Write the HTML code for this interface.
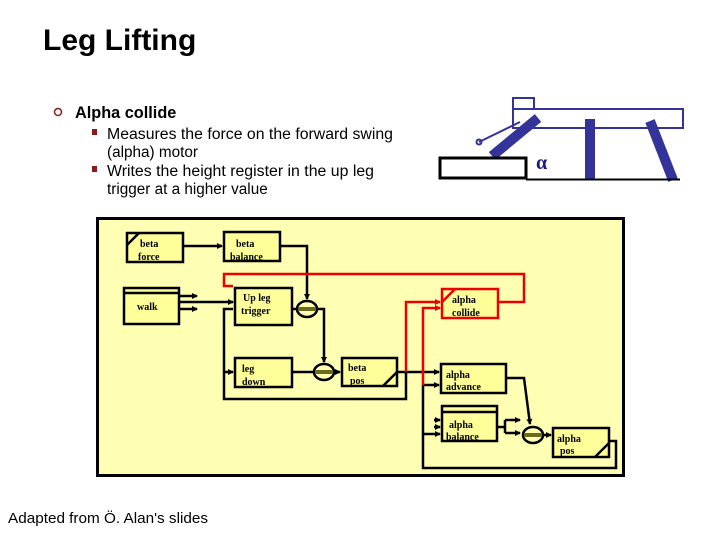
<!DOCTYPE html>
<html><head><meta charset="utf-8"><style>
body{margin:0;width:720px;height:540px;background:#fff;overflow:hidden}
svg{display:block}
.t{font-family:"Liberation Sans",sans-serif}
.b{font-family:"Liberation Serif",serif;font-weight:bold;font-size:10px}
</style></head><body>
<svg width="720" height="540" viewBox="0 0 720 540" xmlns="http://www.w3.org/2000/svg">
<defs>
<marker id="a" markerWidth="6" markerHeight="6" refX="5" refY="3" orient="auto" markerUnits="userSpaceOnUse"><path d="M0,0 L6,3 L0,6z" fill="#000"/></marker>
<marker id="r" markerWidth="6" markerHeight="6" refX="5" refY="3" orient="auto" markerUnits="userSpaceOnUse"><path d="M0,0 L6,3 L0,6z" fill="#e00"/></marker>
</defs>
<text class="t" x="43" y="50" font-size="30" font-weight="bold">Leg Lifting</text>
<circle cx="58" cy="112" r="3.5" fill="none" stroke="#8b1a1a" stroke-width="1.5"/>
<text class="t" x="75" y="118" font-size="16.3" font-weight="bold">Alpha collide</text>
<rect x="92" y="129" width="5" height="6" fill="#8b1a1a"/>
<rect x="92" y="166" width="5" height="6" fill="#8b1a1a"/>
<g class="t" font-size="15.3">
<text x="107" y="139" textLength="286" lengthAdjust="spacingAndGlyphs">Measures the force on the forward swing</text>
<text x="107" y="157">(alpha) motor</text>
<text x="107" y="176" textLength="267" lengthAdjust="spacingAndGlyphs">Writes the height register in the up leg</text>
<text x="107" y="194">trigger at a higher value</text>
</g>
<!-- robot -->
<g fill="none" stroke="#33339a" stroke-width="2">
<rect x="513" y="109" width="170" height="19" fill="#fff"/>
<rect x="513" y="98" width="21" height="11"/>
<line x1="520" y1="122" x2="479" y2="142"/>
<circle cx="479" cy="142" r="2.5"/>
</g>
<line x1="538" y1="118" x2="492" y2="156" stroke="#33339a" stroke-width="10"/>
<rect x="585" y="119" width="10" height="61" fill="#33339a"/>
<line x1="650" y1="121" x2="673" y2="180" stroke="#33339a" stroke-width="10"/>
<rect x="440" y="158" width="86" height="20" fill="#fff" stroke="#000" stroke-width="3"/>
<line x1="526" y1="179.5" x2="680" y2="179.5" stroke="#000" stroke-width="2"/>
<text x="536" y="169" font-family="Liberation Serif,serif" font-size="20" font-weight="bold" fill="#1a1a7a">α</text>
<!-- panel -->
<rect x="97.5" y="218.5" width="526" height="257" fill="#ffffb4" stroke="#000" stroke-width="3"/>
<g stroke="#000" stroke-width="2.5" fill="none">
<line x1="183" y1="246" x2="222" y2="246" marker-end="url(#a)"/>
<polyline points="280,246 307,246 307,299" marker-end="url(#a)"/>
<line x1="179" y1="302" x2="233" y2="302" marker-end="url(#a)"/>
<line x1="179" y1="296" x2="197" y2="296" marker-end="url(#a)"/>
<line x1="179" y1="309" x2="197" y2="309" marker-end="url(#a)"/>
<polyline points="233,309 224,309 224,399 406,399 406,372"/>
<line x1="224" y1="372" x2="233" y2="372" marker-end="url(#a)"/>
<line x1="292" y1="309" x2="297" y2="309"/>
<polyline points="317,309 324,309 324,362" marker-end="url(#a)"/>
<line x1="292" y1="372" x2="314" y2="372"/>
<line x1="334" y1="372" x2="340" y2="372" marker-end="url(#a)"/>
<line x1="397" y1="372" x2="439" y2="372" marker-end="url(#a)"/>
<line x1="423" y1="385" x2="439" y2="385" marker-end="url(#a)"/>
<polyline points="423,385 423,468 616,468 616,441 609,441"/>
<line x1="423" y1="434" x2="440" y2="434" marker-end="url(#a)"/>
<line x1="434" y1="420" x2="440" y2="420" marker-end="url(#a)"/>
<line x1="434" y1="427" x2="440" y2="427" marker-end="url(#a)"/>
<polyline points="497,427 505,427"/>
<polyline points="505,420 505,433"/>
<line x1="505" y1="420" x2="520" y2="420" marker-end="url(#a)"/>
<line x1="505" y1="433" x2="520" y2="433" marker-end="url(#a)"/>
<polyline points="506,378 524,378 530,424" marker-end="url(#a)"/>
<line x1="543" y1="435" x2="551" y2="435" marker-end="url(#a)"/>
</g>
<g stroke="#e00" stroke-width="2.5" fill="none">
<polyline points="233,286 224,286 224,274 524,274 524,302 498,302"/>
<polyline points="406,372 406,302 440,302" marker-end="url(#r)"/>
<polyline points="423,385 423,308 440,308" marker-end="url(#r)"/>
</g>
<!-- sums -->
<g stroke="#000" stroke-width="2.5">
<ellipse cx="307" cy="309" rx="10" ry="8" fill="#ffffb4"/>
<ellipse cx="324" cy="372" rx="10" ry="8" fill="#ffffb4"/>
<ellipse cx="533" cy="435" rx="10" ry="8" fill="#ffffb4"/>
</g>
<g fill="#6b6b20"><rect x="298" y="307" width="18" height="4"/><rect x="315" y="370" width="18" height="4"/><rect x="524" y="433" width="18" height="4"/></g>
<!-- boxes -->
<g fill="#ffff9a" stroke="#000" stroke-width="2.5">
<rect x="127" y="233" width="56" height="29"/>
<rect x="224" y="232" width="56" height="29"/>
<rect x="124" y="288" width="55" height="36"/>
<rect x="235" y="288" width="57" height="37"/>
<rect x="235" y="358" width="57" height="29"/>
<rect x="342" y="358" width="55" height="28"/>
<rect x="442" y="289" width="56" height="29" stroke="#e00"/>
<rect x="441" y="364" width="65" height="29"/>
<rect x="442" y="406" width="55" height="35"/>
<rect x="553" y="428" width="56" height="29"/>
</g>
<g stroke="#000" stroke-width="2.5">
<line x1="124" y1="293" x2="179" y2="293"/>
<line x1="442" y1="412" x2="497" y2="412"/>
<line x1="127" y1="245" x2="139" y2="233"/>
<line x1="383" y1="386" x2="397" y2="372"/>
<line x1="595" y1="457" x2="609" y2="443"/>
<line x1="442" y1="302" x2="455" y2="289" stroke="#e00"/>
</g>
<g class="b">
<text x="140" y="247">beta</text><text x="138" y="260">force</text>
<text x="236" y="247">beta</text><text x="230" y="260">balance</text>
<text x="137" y="310">walk</text>
<text x="243" y="301">Up leg</text><text x="241" y="314">trigger</text>
<text x="242" y="372">leg</text><text x="242" y="385">down</text>
<text x="348" y="371">beta</text><text x="350" y="384">pos</text>
<text x="452" y="303">alpha</text><text x="452" y="316">collide</text>
<text x="446" y="378">alpha</text><text x="446" y="390">advance</text>
<text x="449" y="428">alpha</text><text x="446" y="440">balance</text>
<text x="557" y="442">alpha</text><text x="560" y="454">pos</text>
</g>
<text class="t" x="8" y="523" font-size="15" textLength="200" lengthAdjust="spacingAndGlyphs">Adapted from Ö. Alan's slides</text>
</svg>
</body></html>
